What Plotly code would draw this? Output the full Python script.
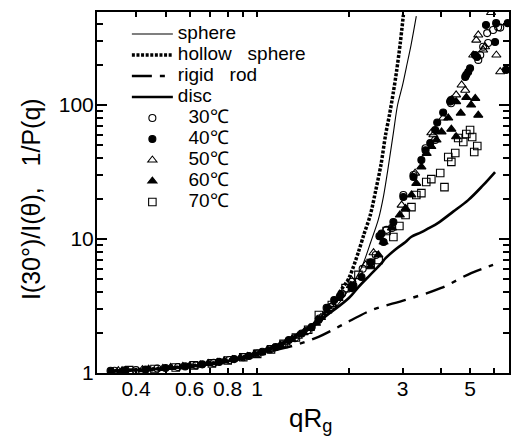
import plotly.graph_objects as go

# ---------------- model curves ----------------
sphere_x = [0.33, 0.40, 0.50, 0.60, 0.70, 0.80, 0.90, 1.00, 1.20, 1.40, 1.60, 1.80, 2.00, 2.20, 2.36, 2.50, 2.60, 2.68, 2.80, 2.89, 3.00, 3.09, 3.20, 3.33]
sphere_y = [1.04, 1.055, 1.087, 1.128, 1.18, 1.24, 1.31, 1.39, 1.62, 1.93, 2.38, 3.05, 4.2, 6.1, 9.5, 14, 21, 32, 62, 100, 140, 192, 280, 460]

hollow_x = [0.33, 0.40, 0.50, 0.60, 0.70, 0.80, 0.90, 1.00, 1.20, 1.40, 1.60, 1.80, 1.85, 2.00, 2.15, 2.24, 2.35, 2.45, 2.55, 2.64, 2.72, 2.80, 2.87, 2.95, 3.02]
hollow_y = [1.04, 1.055, 1.087, 1.13, 1.18, 1.245, 1.32, 1.40, 1.64, 1.98, 2.5, 3.4, 3.9, 5.1, 8.0, 10.8, 15, 23, 36, 60, 85, 125, 180, 290, 470]

rod_x = [0.33, 0.40, 0.50, 0.60, 0.70, 0.80, 0.90, 1.00, 1.15, 1.34, 1.59, 1.90, 2.38, 3.07, 4.02, 5.04, 5.95]
rod_y = [1.04, 1.05, 1.08, 1.12, 1.16, 1.21, 1.28, 1.36, 1.48, 1.62, 1.86, 2.28, 2.95, 3.51, 4.31, 5.57, 6.40]

disc_x = [0.33, 0.40, 0.50, 0.60, 0.751, 0.964, 1.24, 1.59, 2.00, 2.15, 2.35, 2.56, 2.64, 2.85, 3.07, 3.21, 3.45, 3.65, 3.93, 4.40, 4.93, 5.50, 6.04]
disc_y = [1.04, 1.055, 1.085, 1.125, 1.19, 1.38, 1.72, 2.45, 3.63, 4.38, 5.4, 6.6, 7.2, 8.4, 9.5, 10.4, 11.2, 12.0, 13.2, 16.0, 19.5, 25.0, 31.6]

# ---------------- measured data ----------------
t30_x = [0.34, 0.40, 0.47, 0.55, 0.63, 0.72, 0.81, 0.90, 1.00, 1.10, 1.21, 1.33, 1.46, 1.60, 1.74, 1.90, 2.05, 2.22, 2.45, 2.66, 2.77, 3.02, 3.26, 3.57, 3.84, 4.33, 5.32, 5.40, 5.52, 5.73, 5.69, 5.95, 6.18, 6.28]
t30_y = [1.04, 1.05, 1.08, 1.11, 1.14, 1.19, 1.25, 1.31, 1.40, 1.50, 1.63, 1.82, 2.08, 2.55, 3.1, 3.9, 4.8, 6.0, 7.6, 11.7, 12.1, 21.3, 30, 47.5, 54.8, 103, 217, 236, 272, 290, 344, 363, 380, 378]

t40_x = [0.33, 0.37, 0.43, 0.50, 0.58, 0.66, 0.75, 0.84, 0.94, 1.04, 1.15, 1.27, 1.40, 1.51, 1.59, 1.69, 1.79, 1.88, 2.04, 2.07, 2.20, 2.36, 2.52, 2.56, 2.60, 2.80, 3.02, 3.26, 3.46, 3.57, 3.70, 3.84, 3.90, 4.08, 4.30, 4.33, 4.82, 4.86, 4.93, 5.00, 5.19, 5.27, 5.64, 6.04, 6.09, 6.56, 6.65]
t40_y = [1.04, 1.05, 1.06, 1.09, 1.12, 1.16, 1.21, 1.27, 1.34, 1.44, 1.56, 1.76, 1.97, 2.2, 2.49, 3.06, 3.51, 3.82, 4.3, 4.5, 5.2, 6.7, 10.5, 11.0, 9.5, 13.4, 20.6, 29, 38.8, 46, 52, 65, 74, 88, 106, 109, 162, 168, 176, 188, 236, 228, 395, 295, 408, 183, 408]

t50_x = [0.35, 0.42, 0.49, 0.57, 0.65, 0.74, 0.83, 0.93, 1.03, 1.13, 1.24, 1.36, 1.49, 1.62, 1.77, 2.04, 2.27, 2.41, 2.98, 3.30, 3.73, 3.79, 4.08, 4.50, 4.69, 4.82, 5.12, 5.24, 5.32, 5.52, 5.60, 5.86, 6.10, 6.28]
t50_y = [1.04, 1.06, 1.08, 1.12, 1.15, 1.20, 1.26, 1.33, 1.42, 1.53, 1.68, 1.88, 2.15, 2.6, 3.25, 4.94, 6.4, 7.9, 17.9, 31, 62, 60, 80, 119, 141, 129, 236, 305, 333, 257, 272, 490, 236, 177]

t60_x = [0.36, 0.44, 0.52, 0.60, 0.69, 0.78, 0.88, 0.98, 1.08, 1.19, 1.30, 1.42, 1.56, 1.70, 1.85, 2.03, 2.36, 2.50, 2.60, 2.77, 2.94, 3.07, 3.21, 3.33, 3.46, 3.60, 3.73, 3.88, 4.03, 4.24, 4.34, 4.50, 4.34, 4.50, 4.66, 4.86, 5.04, 5.20, 5.32]
t60_y = [1.04, 1.07, 1.10, 1.13, 1.18, 1.23, 1.30, 1.38, 1.48, 1.61, 1.78, 2.0, 2.35, 2.9, 3.6, 4.5, 6.2, 7.6, 9.5, 12.1, 15.1, 16.9, 21.3, 26, 34.5, 43.5, 49, 54.8, 63, 80, 66, 58, 109, 106, 87, 114, 100, 112, 84]

t70_x = [0.38, 0.46, 0.54, 0.62, 0.71, 0.80, 0.90, 1.00, 1.11, 1.22, 1.34, 1.47, 1.594, 1.758, 1.95, 2.15, 2.358, 2.505, 2.66, 2.80, 2.93, 3.07, 3.21, 3.33, 3.46, 3.59, 3.73, 3.99, 4.12, 4.24, 4.34, 4.47, 4.57, 4.75, 4.86, 5.00, 5.08, 5.16, 5.28]
t70_y = [1.05, 1.07, 1.10, 1.14, 1.18, 1.24, 1.31, 1.39, 1.50, 1.65, 1.84, 2.1, 2.71, 3.22, 4.3, 5.4, 6.62, 6.97, 11.47, 10.35, 12.5, 15.1, 17.3, 21.3, 22.0, 26.6, 28.0, 31.1, 24.4, 40.9, 37.6, 43.8, 56.7, 53.0, 60.8, 65.1, 57.7, 44.6, 49.4]

x_tickvals = [0.4, 0.6, 0.8, 1, 3, 5]
x_ticktext = ["0.4", "0.6", "0.8", "1", "3", "5"]
x_minor = [0.5, 0.7, 0.9, 2, 4, 6]
y_tickvals = [1, 10, 100]
y_ticktext = ["1", "10", "100"]
y_minor = [2, 3, 4, 5, 6, 7, 8, 9, 20, 30, 40, 50, 60, 70, 80, 90, 200, 300, 400]

FONT = "Liberation Sans, Arial, sans-serif"
NB = "\u00a0"


def lbl(t):
    return '<span style="font-size:19px">' + t + '</span>'


fig = go.Figure()
fig.add_trace(go.Scatter(x=sphere_x, y=sphere_y, mode="lines", name=lbl("sphere"),
                         line=dict(color="black", width=1.1, shape="spline", smoothing=0.8)))
fig.add_trace(go.Scatter(x=hollow_x, y=hollow_y, mode="lines", name=lbl("hollow" + NB * 3 + "sphere"),
                         line=dict(color="black", width=3.5, dash="3px,1.6px", shape="spline", smoothing=0.8)))
fig.add_trace(go.Scatter(x=rod_x, y=rod_y, mode="lines", name=lbl("rigid" + NB * 3 + "rod"),
                         line=dict(color="black", width=2.4, dash="20px,8px,5px,8px", shape="spline", smoothing=1)))
fig.add_trace(go.Scatter(x=disc_x, y=disc_y, mode="lines", name=lbl("disc"),
                         line=dict(color="black", width=2.6, shape="spline", smoothing=1)))

series = [
    (t30_x, t30_y, "30℃", "circle-open", 7),
    (t40_x, t40_y, "40℃", "circle", 7),
    (t50_x, t50_y, "50℃", "triangle-up-open", 8),
    (t60_x, t60_y, "60℃", "triangle-up", 8),
    (t70_x, t70_y, "70℃", "square-open", 7.5),
]
for xs, ys, name, sym, sz in series:
    fig.add_trace(go.Scatter(x=xs, y=ys, mode="markers", name=lbl(NB * 2 + name),
                             marker=dict(symbol=sym, size=sz, color="black",
                                         line=dict(color="black", width=1.1))))

axis_common = dict(
    type="log", showgrid=False, zeroline=False, showline=True, linecolor="black",
    linewidth=2, mirror="ticks", ticks="inside", tickcolor="black", tickwidth=1.5,
    tickfont=dict(family=FONT, size=21, color="black"),
)

fig.update_layout(
    width=511, height=443,
    margin=dict(l=97, r=0, t=12, b=70),
    paper_bgcolor="white", plot_bgcolor="white",
    font=dict(family=FONT, color="black"),
    xaxis=dict(axis_common, range=[-0.526, 0.8268], tickmode="array",
               tickvals=x_tickvals, ticktext=x_ticktext, ticklen=5,
               ticklabelstandoff=-4,
               minor=dict(tickmode="array", tickvals=x_minor, ticks="inside", ticklen=5,
                          tickwidth=1.5, tickcolor="black", showgrid=False)),
    yaxis=dict(axis_common, range=[0, 2.694], tickmode="array",
               tickvals=y_tickvals, ticktext=y_ticktext, ticklen=10,
               ticklabelstandoff=-3,
               minor=dict(tickmode="array", tickvals=y_minor, ticks="inside", ticklen=6,
                          tickwidth=1.5, tickcolor="black", showgrid=False)),
    showlegend=True,
    legend=dict(x=0.0725, y=0.982, xanchor="left", yanchor="top",
                bgcolor="rgba(0,0,0,0)", borderwidth=0, itemwidth=41,
                font=dict(family=FONT, size=13.85, color="black"), tracegroupgap=0),
    annotations=[
        dict(text="qR<sub>g</sub>", xref="paper", yref="paper", x=0.519, y=-0.078,
             xanchor="center", yanchor="top", showarrow=False,
             font=dict(family=FONT, size=26, color="black")),
        dict(text="I(30°)/I(θ)," + NB * 3 + "1/P(q)", xref="paper", yref="paper",
             x=-0.16, y=0.482, xanchor="center", yanchor="middle", textangle=-90,
             showarrow=False, font=dict(family=FONT, size=25, color="black")),
    ],
)

fig.write_html("out.html")
